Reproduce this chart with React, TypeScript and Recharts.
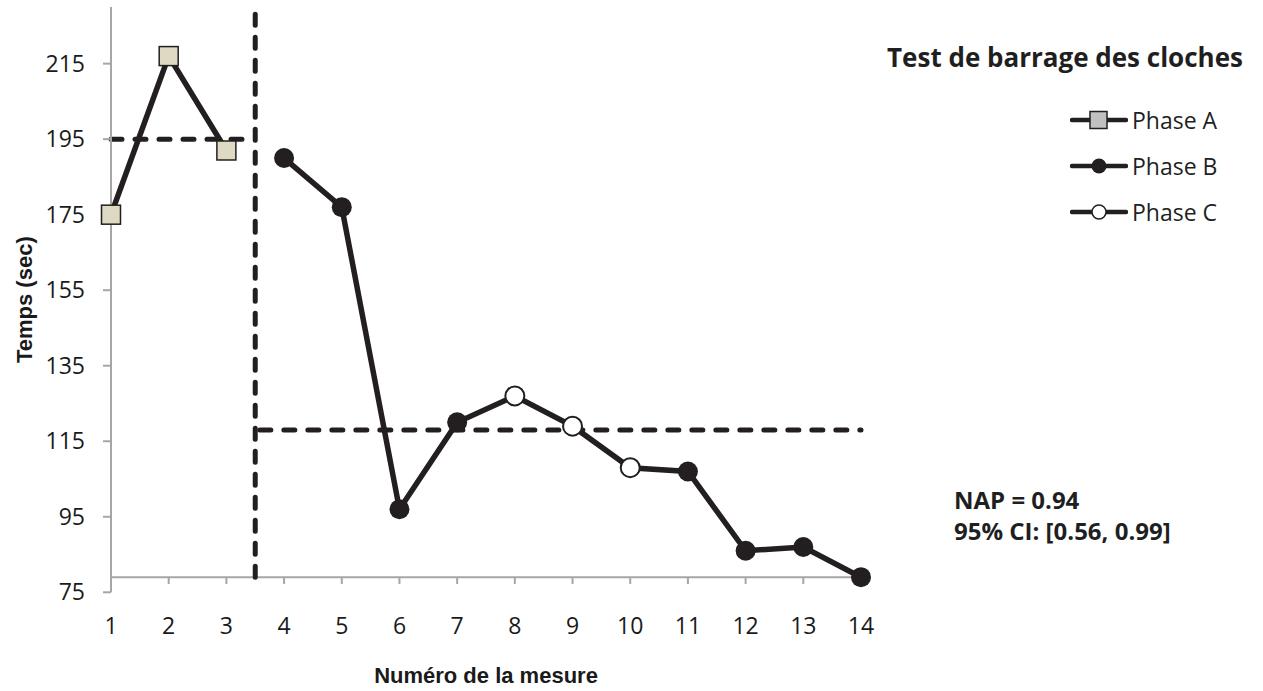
import { LineChart, Line, XAxis, YAxis, ReferenceLine, Legend, Label } from 'recharts';

const mesures = [1, 2, 3, 4, 5, 6, 7, 8, 9, 10, 11, 12, 13, 14];
const phases = ['A', 'A', 'A', 'B', 'B', 'B', 'B', 'C', 'C', 'C', 'B', 'B', 'B', 'B'];
const temps = [175, 217, 192, 190, 177, 97, 120, 127, 119, 108, 107, 86, 87, 79];
const yTicks = [75, 95, 115, 135, 155, 175, 195, 215];
// niveau moyen de la phase A, puis des phases B/C
const moyennes = [195, 118];
const legendItems = ['Phase A', 'Phase B', 'Phase C'];

const AXE_X = 79; // l'axe horizontal croise l'axe Y ici
const INK = '#231f20';
const AXIS_GRAY = '#a6a6a6';
const FONT = '"Open Sans", sans-serif';

const data = mesures.map((m, i) => ({
  mesure: m,
  phase: phases[i],
  a: phases[i] === 'A' ? temps[i] : null,
  bc: phases[i] !== 'A' ? temps[i] : null,
}));

const SquareDot = (props: any) => {
  const { cx, cy, index } = props;
  if (cx == null || cy == null || props.value == null) return <g key={`a-${index}`} />;
  return (
    <rect
      key={`a-${index}`}
      x={cx - 9.5}
      y={cy - 9.5}
      width={19}
      height={19}
      fill="#ddd9c3"
      stroke={INK}
      strokeWidth={1.5}
    />
  );
};

const PhaseDot = (props: any) => {
  const { cx, cy, index, payload } = props;
  if (cx == null || cy == null || props.value == null) return <g key={`bc-${index}`} />;
  if (payload.phase === 'C') {
    return <circle key={`bc-${index}`} cx={cx} cy={cy} r={9.5} fill="#fff" stroke={INK} strokeWidth={2} />;
  }
  return <circle key={`bc-${index}`} cx={cx} cy={cy} r={10} fill={INK} />;
};

const LegendIcon = ({ phase }: { phase: string }) => (
  <svg width={58} height={20} style={{ display: 'block' }}>
    <line x1={2} y1={10} x2={56} y2={10} stroke={INK} strokeWidth={4.5} strokeLinecap="round" />
    {phase === 'A' && <rect x={20} y={1.5} width={17} height={17} fill="#c0c0c0" stroke={INK} strokeWidth={1.5} />}
    {phase === 'B' && <circle cx={29} cy={10} r={7.5} fill={INK} />}
    {phase === 'C' && <circle cx={29} cy={10} r={7} fill="#fff" stroke={INK} strokeWidth={1.5} />}
  </svg>
);

const renderLegend = () => (
  <div>
    {legendItems.map((name) => (
      <div key={name} style={{ display: 'flex', alignItems: 'center', height: 46 }}>
        <LegendIcon phase={name.slice(-1)} />
        <span style={{ marginLeft: 4, fontFamily: FONT, fontSize: 23, color: '#1f1f1f', lineHeight: 1 }}>{name}</span>
      </div>
    ))}
  </div>
);

export default function App() {
  return (
    <div style={{ position: 'absolute', left: 0, top: 0, width: 1263, height: 691, background: '#fff' }}>
      <LineChart
        width={1263}
        height={691}
        data={data}
        margin={{ top: 7, right: 402, bottom: 5.7, left: 0 }}
      >
        <XAxis
          dataKey="mesure"
          type="number"
          domain={[1, 14]}
          ticks={mesures}
          axisLine={false}
          tickLine={false}
          tickSize={0}
          tickMargin={25}
          height={93}
          tick={{ fontSize: 23, fill: '#1a1a1a', fontFamily: FONT }}
        >
          <Label
            value="Numéro de la mesure"
            position="insideBottom"
            offset={2.3}
            style={{ fontFamily: '"Liberation Sans", Arial, sans-serif', fontWeight: 'bold', fontSize: 22, fill: '#1a1a1a' }}
          />
        </XAxis>
        <YAxis
          type="number"
          domain={[75, 230]}
          ticks={yTicks}
          width={111}
          interval={0}
          axisLine={{ stroke: AXIS_GRAY, strokeWidth: 2 }}
          tickLine={{ stroke: AXIS_GRAY, strokeWidth: 2 }}
          tickSize={8}
          tickMargin={18}
          tick={{ fontSize: 23, fill: '#1a1a1a', fontFamily: FONT }}
        >
          <Label
            value="Temps (sec)"
            angle={-90}
            position="insideLeft"
            offset={24}
            style={{ textAnchor: 'middle', fontFamily: '"Liberation Sans", Arial, sans-serif', fontWeight: 'bold', fontSize: 22, fill: '#1a1a1a' }}
          />
        </YAxis>

        {/* axe horizontal et ses graduations */}
        <ReferenceLine y={AXE_X} stroke={AXIS_GRAY} strokeWidth={2} />
        {mesures.map((m) => (
          <ReferenceLine
            key={`tick-${m}`}
            segment={[{ x: m, y: AXE_X }, { x: m, y: AXE_X - 1.8 }]}
            stroke={AXIS_GRAY}
            strokeWidth={2}
          />
        ))}

        {/* niveaux moyens et changement de phase */}
        <ReferenceLine
          segment={[{ x: 1, y: moyennes[0] }, { x: 3.38, y: moyennes[0] }]}
          stroke={INK}
          strokeWidth={5}
          strokeDasharray="11 13"
          strokeLinecap="round"
        />
        <ReferenceLine
          segment={[{ x: 3.58, y: moyennes[1] }, { x: 14, y: moyennes[1] }]}
          stroke={INK}
          strokeWidth={5}
          strokeDasharray="11 13"
          strokeLinecap="round"
        />
        <ReferenceLine
          segment={[{ x: 3.5, y: AXE_X }, { x: 3.5, y: 230 }]}
          stroke={INK}
          strokeWidth={5}
          strokeDasharray="11 12"
          strokeLinecap="round"
        />

        <Line
          dataKey="a"
          stroke={INK}
          strokeWidth={5.5}
          dot={SquareDot}
          activeDot={false}
          isAnimationActive={false}
          legendType="none"
        />
        <Line
          dataKey="bc"
          stroke={INK}
          strokeWidth={5.5}
          dot={PhaseDot}
          activeDot={false}
          isAnimationActive={false}
          legendType="none"
        />

        <Legend
          layout="horizontal"
          verticalAlign="middle"
          align="center"
          content={renderLegend}
          wrapperStyle={{ left: 1070, top: 97, width: 193 }}
        />
      </LineChart>

      <div
        style={{
          position: 'absolute',
          left: 865,
          top: 44,
          width: 400,
          textAlign: 'center',
          fontFamily: FONT,
          fontWeight: 'bold',
          fontSize: 26,
          lineHeight: 1,
          color: '#1f1f1f',
        }}
      >
        Test de barrage des cloches
      </div>

      <div
        style={{
          position: 'absolute',
          left: 954,
          top: 484,
          fontFamily: FONT,
          fontWeight: 'bold',
          fontSize: 24,
          lineHeight: '31px',
          color: '#1f1f1f',
        }}
      >
        <div>NAP = 0.94</div>
        <div>95% CI: [0.56, 0.99]</div>
      </div>
    </div>
  );
}
